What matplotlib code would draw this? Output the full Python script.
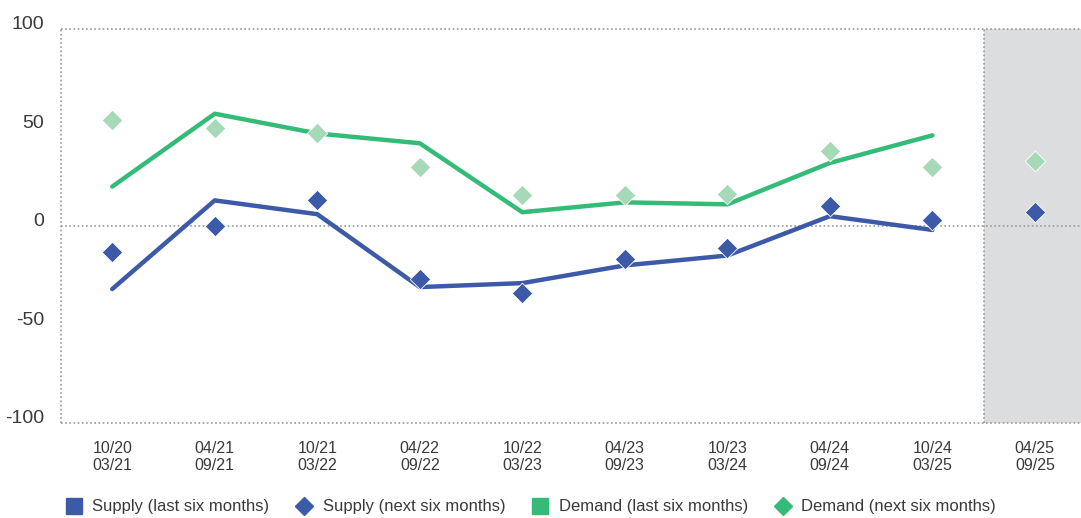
import matplotlib
matplotlib.use("Agg")
import matplotlib.pyplot as plt
from matplotlib.lines import Line2D
import numpy as np

plt.rcParams["font.family"] = ["Liberation Sans", "DejaVu Sans"]

periods = [
    "10/20\n03/21", "04/21\n09/21", "10/21\n03/22", "04/22\n09/22",
    "10/22\n03/23", "04/23\n09/23", "10/23\n03/24", "04/24\n09/24",
    "10/24\n03/25", "04/25\n09/25",
]

# last six months (lines), nine observed periods
supply_last = [-32, 13, 6, -31, -29, -20, -15, 5, -2]
demand_last = [20, 57, 47, 42, 7, 12, 11, 32, 46]

# next six months (diamonds), including the forecast period
supply_next = [-13, 0, 13, -27, -34, -16.5, -11, 10, 3, 7]
demand_next = [54, 50, 47, 30, 15.5, 15.5, 16, 38, 30, 33]

y_ticks = [100, 50, 0, -50, -100]

blue = "#3D5AA9"
green = "#35BB78"
light_green = "#A6D9B7"
grey_text = "#3A3A3A"
dot_grey = "#9A9A9A"

fig = plt.figure(figsize=(10.81, 5.18), dpi=100)
ax = fig.add_axes([0.0564, 0.1834, 0.9436, 0.7606])

x = np.arange(len(periods))

# forecast region
ax.axvspan(8.5, 9.5, color="#DCDDDF", zorder=0, lw=0)
ax.axvline(8.5, color=dot_grey, lw=1.2, ls=(0, (1, 1.5)), zorder=1)

for yv in [100, 0, -100]:
    ax.axhline(yv, color=dot_grey, lw=1.2, ls=(0, (1, 1.5)), zorder=1,
               clip_on=False)
ax.axvline(-0.5, color=dot_grey, lw=1.2, ls=(0, (1, 1.5)), zorder=1,
           clip_on=False)

ax.plot(x[:9], supply_last, color=blue, lw=3.2, solid_capstyle="round",
        zorder=3)
ax.plot(x[:9], demand_last, color=green, lw=3.2, solid_capstyle="round",
        zorder=3)
ax.scatter(x, supply_next, marker="D", s=110, color=blue,
           edgecolor="white", linewidth=0.6, zorder=4)
ax.scatter(x, demand_next, marker="D", s=110, color=light_green,
           edgecolor="white", linewidth=0.6, zorder=4)

ax.set_xlim(-0.5, 9.45)
ax.set_ylim(-100, 100)

for s in ax.spines.values():
    s.set_visible(False)

ax.set_xticks(x)
ax.set_xticklabels(periods, fontsize=11.5, color=grey_text, linespacing=1.2)
ax.set_yticks(y_ticks)
ax.set_yticklabels([str(v) for v in y_ticks], fontsize=14, color=grey_text,
                   va="baseline")
ax.tick_params(axis="both", length=0)
ax.tick_params(axis="x", pad=13)
ax.tick_params(axis="y", pad=12)

handles = [
    Line2D([], [], ls="none", marker="s", markersize=11, color=blue),
    Line2D([], [], ls="none", marker="D", markersize=9, color=blue),
    Line2D([], [], ls="none", marker="s", markersize=11, color=green),
    Line2D([], [], ls="none", marker="D", markersize=9, color=green),
]
labels = [
    "Supply (last six months)", "Supply (next six months)",
    "Demand (last six months)", "Demand (next six months)",
]
fig.legend(handles, labels, loc="lower center", ncol=4, frameon=False,
           bbox_to_anchor=(0.491, -0.022), fontsize=12, handlelength=1.0,
           handletextpad=0.6, columnspacing=1.6, labelcolor=grey_text)

fig.savefig("out.png", dpi=100)
